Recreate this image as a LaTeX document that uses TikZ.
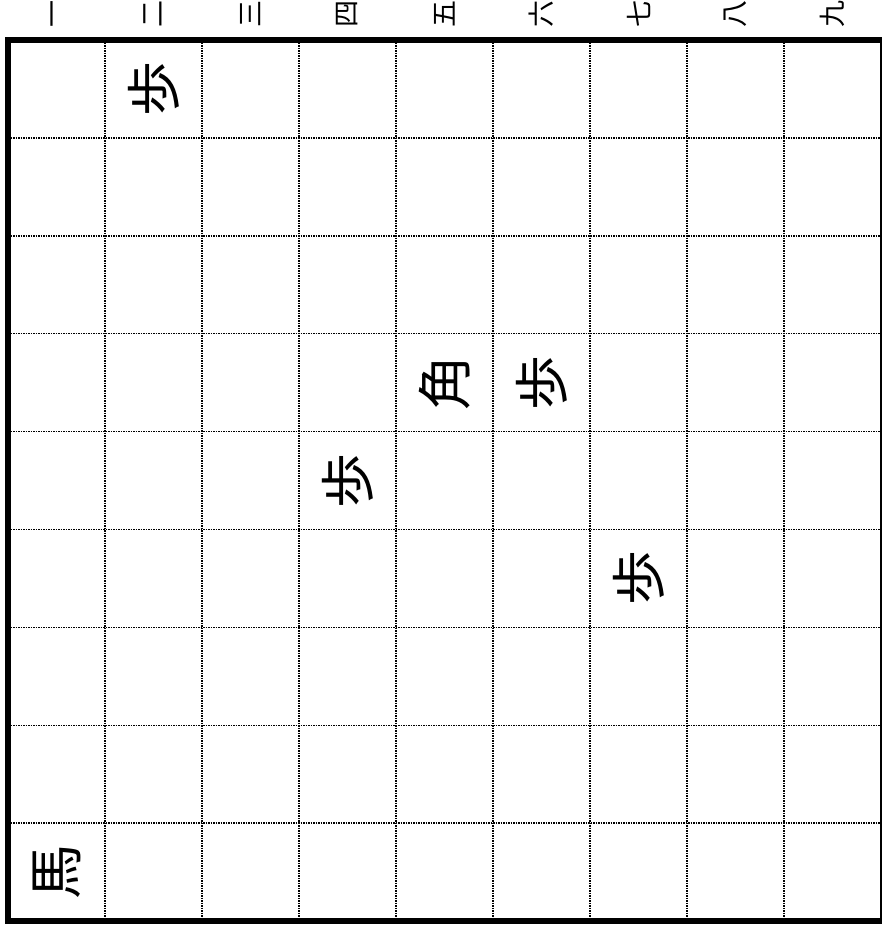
\documentclass[tikz,border=0pt]{standalone}
\usepackage{fontspec}
\newfontfamily\gothic{Noto Sans CJK JP}
\usetikzlibrary{positioning}

\tikzset{
  masu/.style={densely dotted,line width=1.5pt},
  waku/.style={line width=6pt},
  suji/.style={font=\gothic\fontsize{27}{27}\selectfont,rotate=90,inner sep=0pt},
  komaji/.style={font=\gothic\fontsize{55}{55}\selectfont,rotate=90,inner sep=0pt},
}

\begin{document}
\begin{tikzpicture}[x=1pt,y=-1pt]
  \useasboundingbox (0,0) rectangle (882,932);
  % dotted grid
  \foreach \i in {1,...,8} {
    \draw[masu] ({8+97*\i},40) -- ({8+97*\i},921);
    \draw[masu] (8,{40+97.9*\i}) -- (881,{40+97.9*\i});
  }
  % frame
  \draw[waku] (882,40) -- (8,40) -- (8,921) -- (882,921);
  \draw[line width=1.6pt] (881,40) -- (881,921);
  % column numbers
  \foreach \c/\kan in {1/一,2/二,3/三,4/四,5/五,6/六,7/七,8/八,9/九}
    \node[suji] (suji\c) at ({8+97*(\c-0.5)},14) {\kan};
  % pieces
  \foreach \nm/\c/\r/\kan in {fua/2/1/歩, kaku/5/4/角, fub/6/4/歩,
                              fuc/4/5/歩, fud/7/6/歩, uma/1/9/馬}
    \node[komaji] (\nm) at ({8+97*(\c-0.5)},{40+97.9*(\r-0.5)}) {\kan};
\end{tikzpicture}
\end{document}
